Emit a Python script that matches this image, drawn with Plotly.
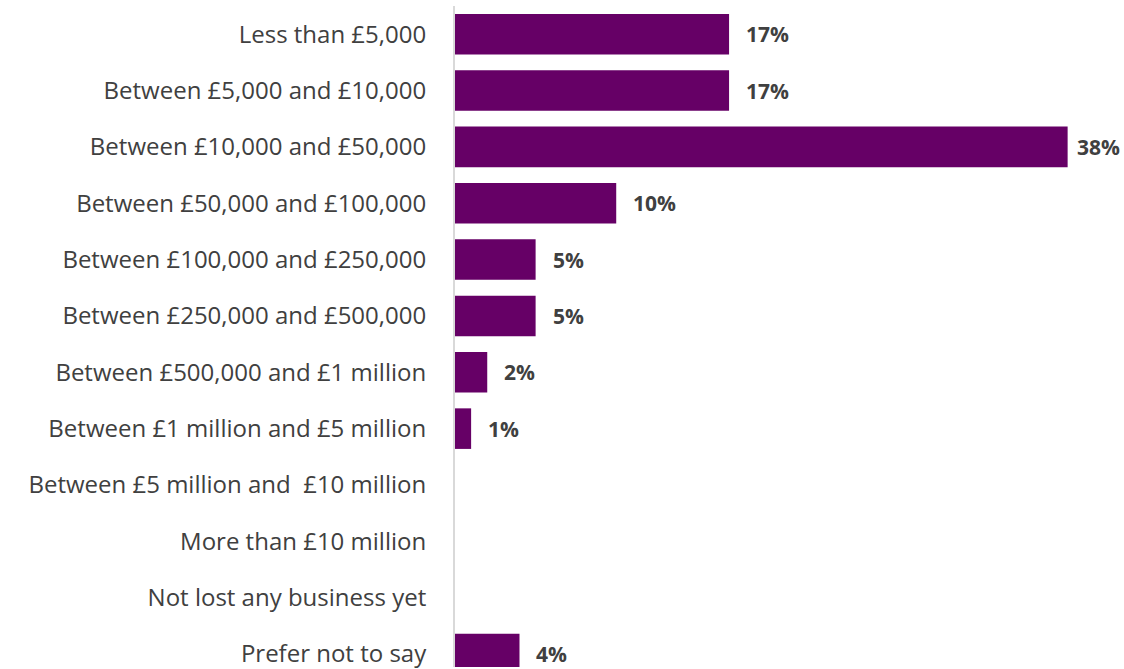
import plotly.graph_objects as go

categories = [
    "Less than £5,000",
    "Between £5,000 and £10,000",
    "Between £10,000 and £50,000",
    "Between £50,000 and £100,000",
    "Between £100,000 and £250,000",
    "Between £250,000 and £500,000",
    "Between £500,000 and £1 million",
    "Between £1 million and £5 million",
    "Between £5 million and  £10 million",
    "More than £10 million",
    "Not lost any business yet",
    "Prefer not to say",
]
values = [17, 17, 38, 10, 5, 5, 2, 1, 0, 0, 0, 4]

BAR_COLOR = "#660066"
TEXT_COLOR = "#404040"
FONT = "'Open Sans', Lato, sans-serif"
X_MAX = 41

fig = go.Figure(
    go.Bar(
        x=values,
        y=categories,
        orientation="h",
        marker=dict(color=BAR_COLOR, line=dict(width=0)),
        width=0.72,
        hoverinfo="skip",
    )
)

# value labels to the right of each non-empty bar; tighter gap for the
# longest bar so its label stays inside the canvas
longest = max(values)
for cat, v in zip(categories, values):
    if v > 0:
        fig.add_annotation(
            x=v, y=cat, text=f"<b>{v}%</b>", showarrow=False,
            xanchor="left", xshift=7 if v == longest else 15,
            font=dict(family=FONT, size=21, color=TEXT_COLOR),
        )

fig.update_layout(
    width=1124, height=669,
    margin=dict(l=455, r=8, t=6, b=0),
    paper_bgcolor="white", plot_bgcolor="white",
    showlegend=False,
    font=dict(family=FONT, size=20, color=TEXT_COLOR),
)
fig.update_xaxes(range=[0, X_MAX], visible=False, showgrid=False, zeroline=False)
fig.update_yaxes(
    type="category",
    categoryorder="array", categoryarray=categories,
    range=[11.23, -0.5],
    showgrid=False, zeroline=False,
    showline=True, linecolor="#d9d9d9", linewidth=2,
    ticks="", ticklabelstandoff=22,
    tickfont=dict(family=FONT, size=24, color=TEXT_COLOR),
)

fig.write_html("out.html")
